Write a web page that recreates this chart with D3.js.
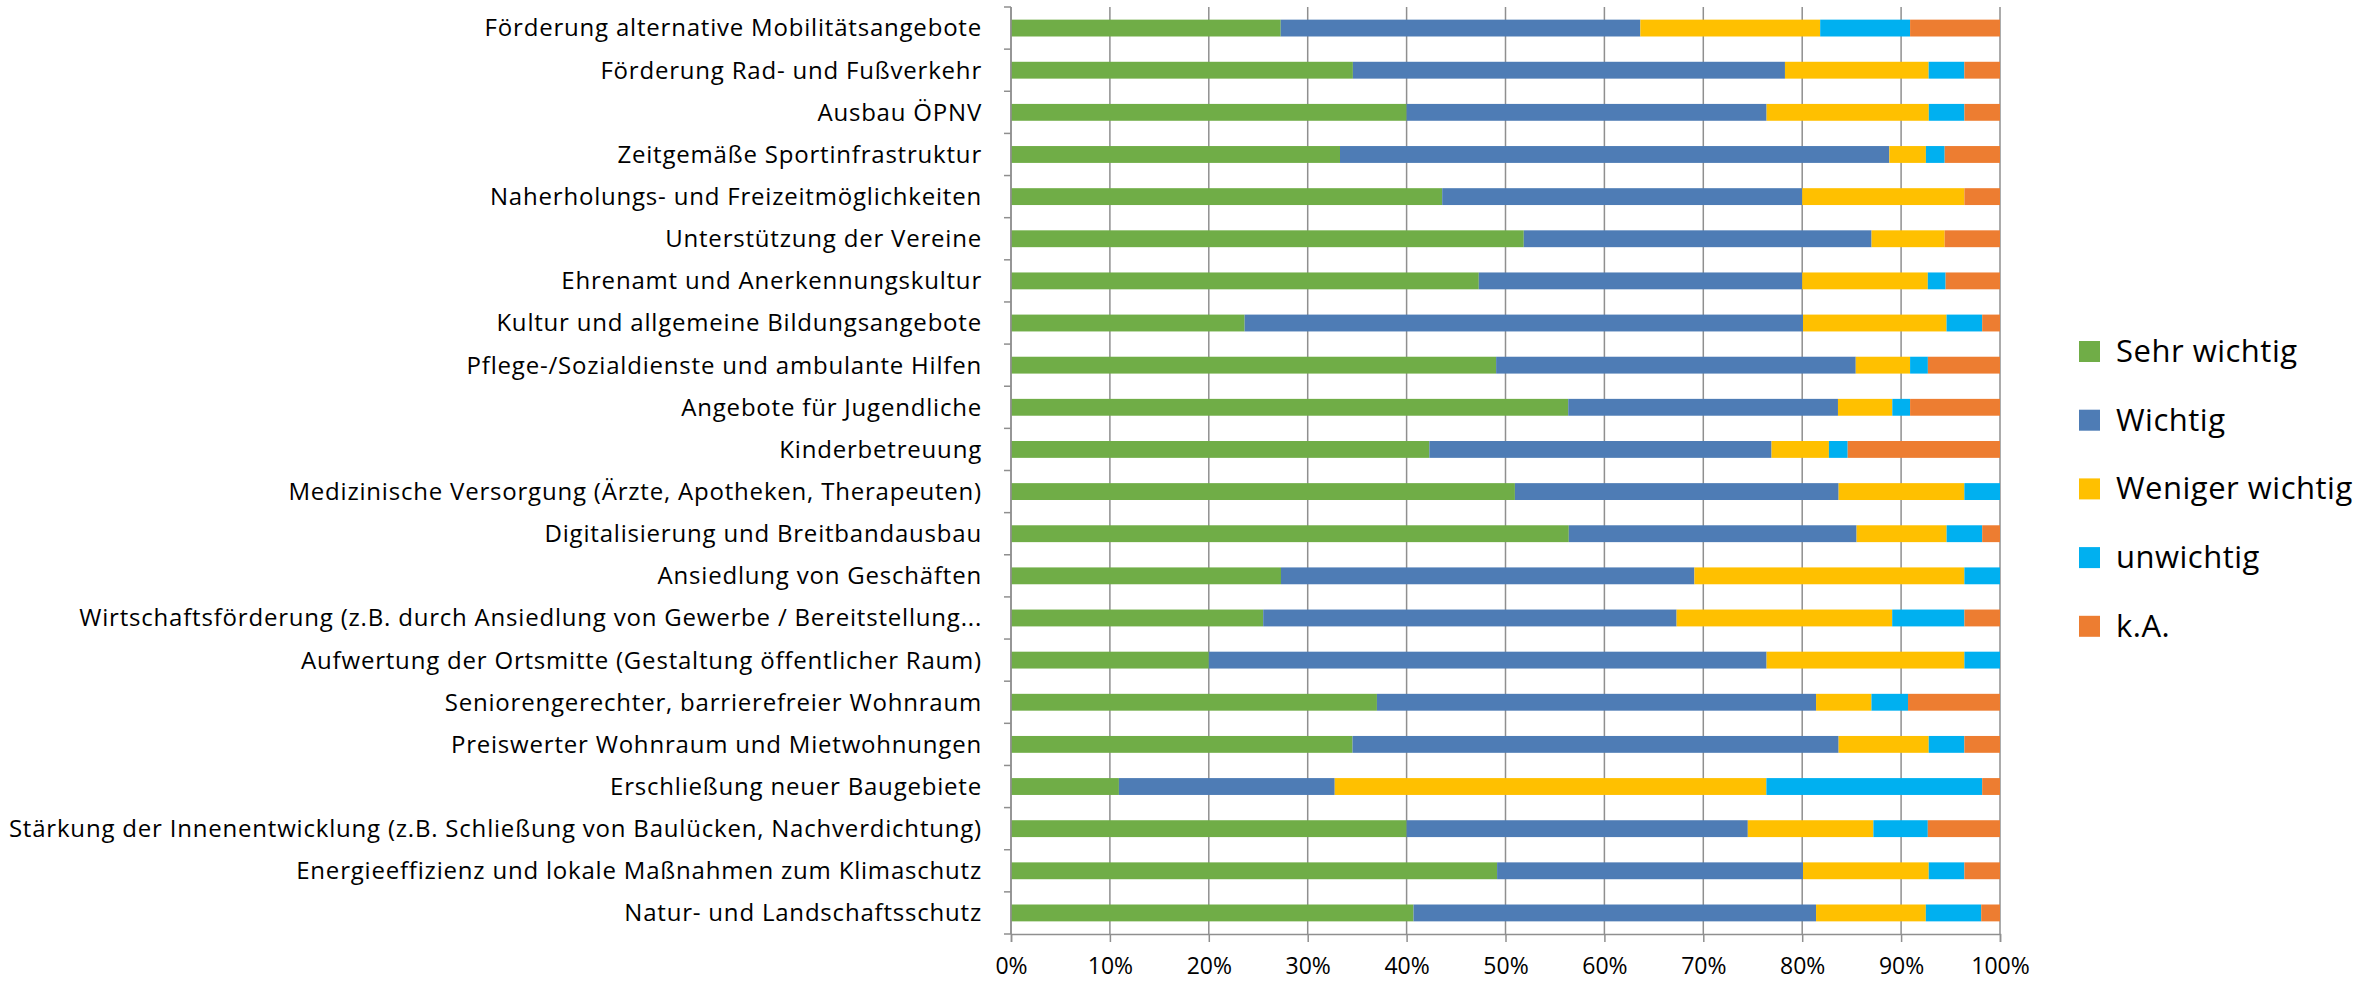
<!DOCTYPE html>
<html>
<head>
<meta charset="utf-8">
<script src="https://cdn.jsdelivr.net/npm/d3@7"></script>
<style>
  body { margin: 0; background: #fff; }
  text { font-family: "Open Sans", "Liberation Sans", sans-serif; fill: #000; }
</style>
</head>
<body>
<script>
(function (d3) {
    "use strict";

    /***** Daten (Anteile in %, von oben nach unten) *****/
    var categories = [
        "Förderung alternative Mobilitätsangebote",
        "Förderung Rad- und Fußverkehr",
        "Ausbau ÖPNV",
        "Zeitgemäße Sportinfrastruktur",
        "Naherholungs- und Freizeitmöglichkeiten",
        "Unterstützung der Vereine",
        "Ehrenamt und Anerkennungskultur",
        "Kultur und allgemeine Bildungsangebote",
        "Pflege-/Sozialdienste und ambulante Hilfen",
        "Angebote für Jugendliche",
        "Kinderbetreuung",
        "Medizinische Versorgung (Ärzte, Apotheken, Therapeuten)",
        "Digitalisierung und Breitbandausbau",
        "Ansiedlung von Geschäften",
        "Wirtschaftsförderung (z.B. durch Ansiedlung von Gewerbe / Bereitstellung...",
        "Aufwertung der Ortsmitte (Gestaltung öffentlicher Raum)",
        "Seniorengerechter, barrierefreier Wohnraum",
        "Preiswerter Wohnraum und Mietwohnungen",
        "Erschließung neuer Baugebiete",
        "Stärkung der Innenentwicklung (z.B. Schließung von Baulücken, Nachverdichtung)",
        "Energieeffizienz und lokale Maßnahmen zum Klimaschutz",
        "Natur- und Landschaftsschutz"
    ];
    var sehrWichtig    = [27.3, 34.5, 40.0, 33.3, 43.6, 51.9, 47.3, 23.6, 49.1, 56.4, 42.3, 50.9, 56.4, 27.3, 25.5, 20.0, 37.0, 34.5, 10.9, 40.0, 49.1, 40.7];
    var wichtig        = [36.4, 43.6, 36.4, 55.6, 36.4, 35.2, 32.7, 56.4, 36.4, 27.3, 34.6, 32.7, 29.1, 41.8, 41.8, 56.4, 44.4, 49.1, 21.8, 34.5, 30.9, 40.7];
    var wenigerWichtig = [18.2, 14.5, 16.4,  3.7, 16.4,  7.4, 12.7, 14.5,  5.5,  5.5,  5.8, 12.7,  9.1, 27.3, 21.8, 20.0,  5.6,  9.1, 43.6, 12.7, 12.7, 11.1];
    var unwichtig      = [ 9.1,  3.6,  3.6,  1.9,  0.0,  0.0,  1.8,  3.6,  1.8,  1.8,  1.9,  3.6,  3.6,  3.6,  7.3,  3.6,  3.7,  3.6, 21.8,  5.5,  3.6,  5.6];
    var keineAngabe    = [ 9.1,  3.6,  3.6,  5.6,  3.6,  5.6,  5.5,  1.8,  7.3,  9.1, 15.4,  0.0,  1.8,  0.0,  3.6,  0.0,  9.3,  3.6,  1.8,  7.3,  3.6,  1.9];

    var seriesNames = ["Sehr wichtig", "Wichtig", "Weniger wichtig", "unwichtig", "k.A."];
    var seriesValues = [sehrWichtig, wichtig, wenigerWichtig, unwichtig, keineAngabe];
    var seriesColors = ["#70AD47", "#4E7CB5", "#FFC000", "#00B0F0", "#ED7D31"];
    var tickValues = d3.range(0, 1.0001, 0.1);

    /***** Configuration *****/
    var width = 2376, height = 983;
    var chartMargin = { top: 7, right: 376, bottom: 49, left: 1011 };
    var chartWidth = width - chartMargin.left - chartMargin.right;
    var chartHeight = height - chartMargin.top - chartMargin.bottom;
    var gridColor = "#8f8f8f";

    var rows = categories.map(function (c, i) {
        var row = { category: c };
        seriesNames.forEach(function (s, j) { row[s] = seriesValues[j][i]; });
        return row;
    });

    var stacked = d3.stack()
        .keys(seriesNames)
        .offset(d3.stackOffsetExpand)(rows);

    /***** Échelles *****/
    var xScale = d3.scaleLinear().domain([0, 1]).range([0, chartWidth]);
    var yScale = d3.scaleBand()
        .domain(categories)
        .range([0, chartHeight])
        .paddingInner(0.6)
        .paddingOuter(0.3);
    var colorScale = d3.scaleOrdinal().domain(seriesNames).range(seriesColors);

    var svg = d3.select("body")
        .append("svg")
        .attr("width", width)
        .attr("height", height);

    var g = svg.append("g")
        .attr("transform", "translate(" + chartMargin.left + "," + chartMargin.top + ")");

    /***** Gitternetz *****/
    g.append("g")
        .selectAll("line")
        .data(tickValues)
        .enter().append("line")
        .attr("x1", function (d) { return xScale(d); })
        .attr("x2", function (d) { return xScale(d); })
        .attr("y1", 0)
        .attr("y2", chartHeight)
        .attr("stroke", gridColor)
        .attr("stroke-width", 1.5);

    /***** Balken *****/
    g.append("g")
        .selectAll("g")
        .data(stacked)
        .enter().append("g")
        .attr("fill", function (d) { return colorScale(d.key); })
        .selectAll("rect")
        .data(function (d) { return d; })
        .enter().append("rect")
        .attr("x", function (d) { return xScale(d[0]); })
        .attr("width", function (d) { return xScale(d[1]) - xScale(d[0]); })
        .attr("y", function (d) { return yScale(d.data.category); })
        .attr("height", yScale.bandwidth());

    /***** Achsen *****/
    var xAxis = d3.axisBottom(xScale)
        .tickValues(tickValues)
        .tickSize(8)
        .tickPadding(16)
        .tickFormat(d3.format(".0%"));

    var xAxisGroup = g.append("g")
        .attr("transform", "translate(0," + chartHeight + ")")
        .call(xAxis);
    xAxisGroup.select(".domain").attr("stroke", gridColor).attr("stroke-width", 1.5);
    xAxisGroup.selectAll(".tick line").attr("stroke", gridColor).attr("stroke-width", 1.5);
    xAxisGroup.selectAll(".tick text")
        .attr("font-size", "23px")
        .attr("font-family", null)
        .attr("fill", "#000");

    // linke Achse mit Strichen zwischen den Kategorien
    var step = yScale.step();
    var firstBoundary = yScale.paddingOuter() * step - yScale.paddingInner() * step / 2;
    g.append("line")
        .attr("x1", 0).attr("x2", 0)
        .attr("y1", 0).attr("y2", chartHeight)
        .attr("stroke", gridColor)
        .attr("stroke-width", 1.5);
    g.append("g")
        .selectAll("line")
        .data(d3.range(categories.length + 1))
        .enter().append("line")
        .attr("x1", -7).attr("x2", 0)
        .attr("y1", function (i) { return firstBoundary + i * step; })
        .attr("y2", function (i) { return firstBoundary + i * step; })
        .attr("stroke", gridColor)
        .attr("stroke-width", 1.5);

    g.append("g")
        .selectAll("text")
        .data(categories)
        .enter().append("text")
        .attr("x", -29)
        .attr("y", function (d) { return yScale(d) + yScale.bandwidth() / 2; })
        .attr("dy", "0.35em")
        .attr("text-anchor", "end")
        .attr("font-size", "24px")
        .attr("letter-spacing", "0.8px")
        .text(function (d) { return d; });

    /***** Legende *****/
    var legend = svg.append("g")
        .attr("transform", "translate(2079,341)");

    var legendItem = legend.selectAll("g")
        .data(seriesNames)
        .enter().append("g")
        .attr("transform", function (d, i) { return "translate(0," + (i * 68.7) + ")"; });

    legendItem.append("rect")
        .attr("width", 21)
        .attr("height", 21)
        .attr("fill", function (d) { return colorScale(d); });

    legendItem.append("text")
        .attr("x", 37)
        .attr("y", 21)
        .attr("font-size", "31px")
        .attr("letter-spacing", "0.5px")
        .text(function (d) { return d; });

})(d3);
</script>
</body>
</html>
